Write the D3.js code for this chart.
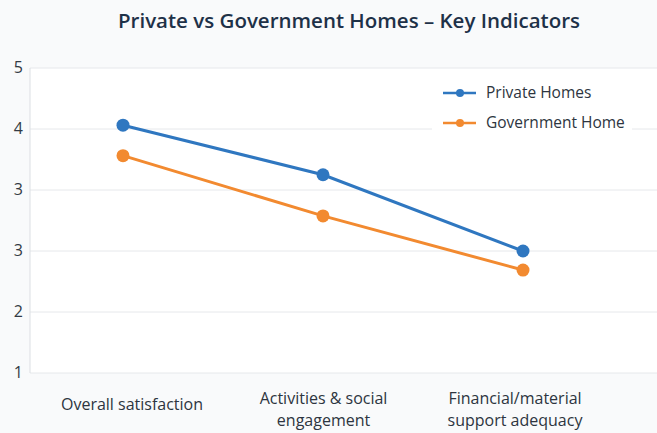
<!DOCTYPE html>
<html>
<head>
<meta charset="utf-8">
<script src="https://cdn.jsdelivr.net/npm/d3@7"></script>
<style>
  body { margin: 0; background: #f9fafb; }
  svg { display: block; font-family: "Open Sans", "Noto Sans", sans-serif; }
</style>
</head>
<body>
<svg width="657" height="433"></svg>
<script>
const categories = ["Overall satisfaction", "Activities & social engagement", "Financial/material support adequacy"];
const categoryLines = [["Overall satisfaction"], ["Activities & social", "engagement"], ["Financial/material", "support adequacy"]];
const privateHomes = [4.25, 3.6, 2.6];
const governmentHome = [3.85, 3.06, 2.35];
const seriesNames = ["Private Homes", "Government Home"];
const colors = ["#2f77c0", "#f28a30"];

const svg = d3.select("svg");
const margin = { top: 68, right: 0, bottom: 60, left: 30 };
const width = 657, height = 433;

const x = d3.scalePoint()
  .domain(categories)
  .range([23, 623])
  .padding(0.5);

// tick labels sit a bit closer together than the points
const xLabel = d3.scalePoint()
  .domain(categories)
  .range([132, 515]);

const y = d3.scaleLinear()
  .domain([1, 5])
  .range([373, 68]);

// plot background
svg.append("rect")
  .attr("x", margin.left).attr("y", y(5))
  .attr("width", width - margin.left).attr("height", y(1) - y(5))
  .attr("fill", "#ffffff");

const ticks = d3.range(6).map(i => 1 + i * 0.8);

svg.append("g")
  .selectAll("line")
  .data(ticks)
  .join("line")
  .attr("x1", margin.left).attr("x2", width)
  .attr("y1", d => y(d)).attr("y2", d => y(d))
  .attr("stroke", "#e6e8eb")
  .attr("stroke-width", 1);

svg.append("line")
  .attr("x1", margin.left).attr("x2", margin.left)
  .attr("y1", y(5)).attr("y2", y(1))
  .attr("stroke", "#dcdfe3");

svg.append("g")
  .selectAll("text")
  .data(ticks)
  .join("text")
  .attr("x", 23)
  .attr("y", d => y(d))
  .attr("dy", "0.3em")
  .attr("text-anchor", "end")
  .attr("font-size", 16)
  .attr("fill", "#333a44")
  .text(d => Math.round(d));

// x labels
const xl = svg.append("g")
  .selectAll("text")
  .data(categories)
  .join("text")
  .attr("text-anchor", "middle")
  .attr("font-size", 16)
  .attr("fill", "#2d3540")
  .attr("transform", d => `translate(${xLabel(d)},0)`);

xl.each(function (d, i) {
  const lines = categoryLines[i];
  const t = d3.select(this);
  lines.forEach((l, j) => {
    t.append("tspan")
      .attr("x", 0)
      .attr("y", (lines.length === 1 ? 410 : 404) + j * 22)
      .text(l);
  });
});

// lines
const series = [privateHomes, governmentHome];
const line = d3.line()
  .x((d, i) => x(categories[i]))
  .y(d => y(d));

series.forEach((vals, s) => {
  svg.append("path")
    .datum(vals)
    .attr("d", line)
    .attr("fill", "none")
    .attr("stroke", colors[s])
    .attr("stroke-width", 3);
  svg.append("g")
    .selectAll("circle")
    .data(vals)
    .join("circle")
    .attr("cx", (d, i) => x(categories[i]))
    .attr("cy", d => y(d))
    .attr("r", 6.5)
    .attr("fill", colors[s]);
});

// legend
const legend = svg.append("g");
legend.append("rect")
  .attr("x", 432).attr("y", 76)
  .attr("width", 200).attr("height", 62)
  .attr("fill", "#ffffff");
seriesNames.forEach((name, i) => {
  const ly = 93 + i * 30;
  legend.append("line")
    .attr("x1", 443).attr("x2", 476)
    .attr("y1", ly).attr("y2", ly)
    .attr("stroke", colors[i]).attr("stroke-width", 2.5);
  legend.append("circle")
    .attr("cx", 460).attr("cy", ly).attr("r", 4)
    .attr("fill", colors[i]);
  legend.append("text")
    .attr("x", 486).attr("y", ly)
    .attr("dy", "0.35em")
    .attr("font-size", 15.5)
    .attr("fill", "#2d3540")
    .text(name);
});

svg.append("text")
  .attr("x", 349).attr("y", 28)
  .attr("text-anchor", "middle")
  .attr("font-size", 20.5)
  .attr("font-weight", 600)
  .attr("fill", "#1e3148")
  .text("Private vs Government Homes – Key Indicators");
</script>
</body>
</html>
